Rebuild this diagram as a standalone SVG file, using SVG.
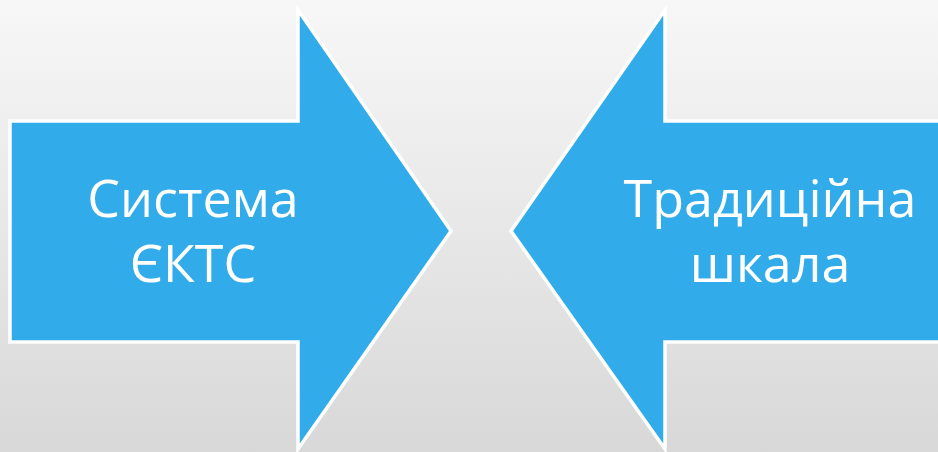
<svg xmlns="http://www.w3.org/2000/svg" width="938" height="452" viewBox="0 0 938 452">
<defs>
<linearGradient id="bg" x1="0" y1="0" x2="0" y2="1">
<stop offset="0" stop-color="#f7f7f7"/>
<stop offset="1" stop-color="#d8d8d8"/>
</linearGradient>
<style>
.arr{fill:#31abea;stroke:#ffffff;stroke-width:3.5;stroke-linejoin:miter}
.t{font-family:"Open Sans","Noto Sans",sans-serif;font-size:52px;fill:#ffffff;text-anchor:middle}
</style>
</defs>
<rect width="938" height="452" fill="url(#bg)"/>
<g id="left-arrow">
<polygon class="arr" points="10,121 298,121 298,10 451,231 298,449 298,342 10,342"/>
<text class="t" x="193" y="217">Система</text>
<text class="t" x="193" y="282">ЄКТС</text>
</g>
<g id="right-arrow">
<polygon class="arr" points="945,121 665,121 665,10 511,231 665,449 665,342 945,342"/>
<text class="t" x="770" y="217">Традиційна</text>
<text class="t" x="770" y="282">шкала</text>
</g>
</svg>
